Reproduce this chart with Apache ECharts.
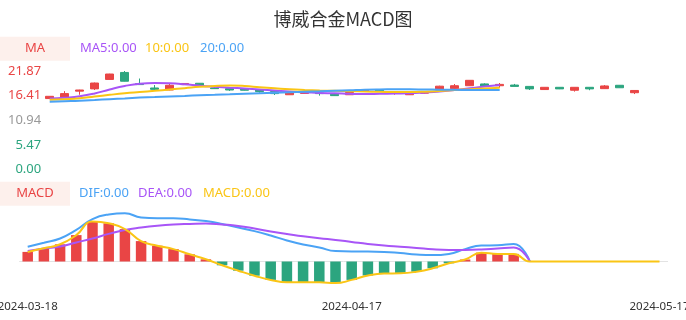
<!DOCTYPE html>
<html>
<head>
<meta charset="utf-8">
<title>博威合金MACD图</title>
<script src="https://cdn.jsdelivr.net/npm/echarts/dist/echarts.min.js"></script>
<style>
  html, body { margin: 0; padding: 0; background: #fff; }
  #main { width: 686px; height: 320px; }
</style>
</head>
<body>
<div id="main"></div>
<script>
// trading days 2024-03-18 .. 2024-05-17
const dates = [
  '2024-03-18','2024-03-19','2024-03-20','2024-03-21','2024-03-22',
  '2024-03-25','2024-03-26','2024-03-27','2024-03-28','2024-03-29',
  '2024-04-01','2024-04-02','2024-04-03','2024-04-08','2024-04-09',
  '2024-04-10','2024-04-11','2024-04-12','2024-04-15','2024-04-16',
  '2024-04-17','2024-04-18','2024-04-19','2024-04-22','2024-04-23',
  '2024-04-24','2024-04-25','2024-04-26','2024-04-29','2024-04-30',
  '2024-05-06','2024-05-07','2024-05-08','2024-05-09','2024-05-10',
  '2024-05-13','2024-05-14','2024-05-15','2024-05-16','2024-05-17'
];
// [open, close, low, high]
const candles = [
  [15.75, 16.25, 15.70, 16.30], [16.00, 16.85, 15.95, 17.40], [17.40, 17.65, 16.60, 17.70],
  [17.90, 19.20, 17.65, 19.30], [20.00, 21.20, 20.00, 21.25], [21.55, 19.60, 19.55, 21.87],
  [19.05, 18.85, 18.80, 20.20], [18.10, 17.80, 17.50, 18.75], [17.65, 18.70, 17.60, 19.00],
  [18.85, 19.10, 18.80, 19.20], [19.15, 18.70, 18.40, 19.20], [18.10, 17.95, 17.90, 18.20],
  [17.95, 17.65, 17.45, 18.00], [17.95, 17.60, 17.55, 18.00], [17.65, 17.30, 17.05, 17.70],
  [17.30, 16.85, 16.55, 17.60], [16.60, 17.15, 16.60, 17.15], [16.90, 17.05, 16.85, 17.50],
  [17.00, 16.85, 16.40, 17.10], [16.70, 16.40, 16.35, 16.75], [16.60, 17.10, 16.55, 17.10],
  [17.35, 17.70, 17.30, 17.80], [17.60, 17.30, 17.25, 17.65], [16.90, 17.00, 16.60, 17.05],
  [16.60, 17.00, 16.55, 17.00], [16.95, 17.10, 16.90, 17.15], [17.65, 18.50, 17.60, 18.60],
  [17.95, 18.60, 17.60, 18.98], [18.60, 19.80, 18.55, 19.85], [19.00, 18.55, 18.50, 19.15],
  [18.60, 18.90, 18.15, 19.20], [18.75, 18.45, 18.45, 19.00], [18.45, 17.90, 17.65, 18.50],
  [17.75, 18.25, 17.70, 18.30], [18.25, 17.90, 17.85, 18.30], [17.60, 18.25, 17.30, 18.30],
  [18.25, 17.90, 17.60, 18.30], [17.95, 18.55, 17.90, 18.75], [18.70, 18.15, 18.10, 18.75],
  [17.05, 17.55, 16.75, 17.60]
];
const ma5 = [
  15.76, 15.94, 16.25, 16.87, 17.76, 18.54, 19.05, 19.20, 19.13, 18.91,
  18.60, 18.36, 18.16, 17.98, 17.76, 17.54, 17.32, 17.16, 16.98, 16.92,
  16.81, 16.76, 16.81, 16.87, 16.92, 17.09, 17.32, 17.65, 18.02, 18.42,
  18.76
];
const ma10 = [
  15.48, 15.61, 15.81, 16.21, 16.58, 16.92, 17.20, 17.47, 17.76, 18.05,
  18.36, 18.56, 18.65, 18.54, 18.27, 18.03, 17.80, 17.65, 17.54, 17.47,
  17.38, 17.32, 17.25, 17.20, 17.20, 17.27, 17.43, 17.65, 17.83, 18.00,
  18.16
];
const ma20 = [
  15.05, 15.16, 15.27, 15.43, 15.61, 15.78, 15.96, 16.10, 16.23, 16.34,
  16.47, 16.58, 16.69, 16.81, 16.92, 17.03, 17.14, 17.25, 17.36, 17.49,
  17.60, 17.72, 17.78, 17.80, 17.80, 17.76, 17.72, 17.69, 17.67, 17.65,
  17.65
];
const dif = [
  0.37, 0.47, 0.575, 0.79, 1.06, 1.175, 1.205, 1.10, 1.08, 1.08,
  1.05, 1.01, 0.94, 0.85, 0.76, 0.65, 0.525, 0.425, 0.35, 0.26,
  0.25, 0.25, 0.24, 0.21, 0.175, 0.16, 0.19, 0.31, 0.40, 0.405,
  0.44, 0
];
const dea = [
  0.26, 0.325, 0.375, 0.475, 0.575, 0.69, 0.79, 0.85, 0.895, 0.925,
  0.94, 0.95, 0.925, 0.89, 0.825, 0.75, 0.69, 0.63, 0.58, 0.54,
  0.49, 0.44, 0.40, 0.37, 0.34, 0.305, 0.29, 0.29, 0.30, 0.325,
  0.35, 0
];
const macd = [
  0.24, 0.33, 0.43, 0.66, 1.00, 0.955, 0.81, 0.51, 0.395, 0.31,
  0.18, 0.055, -0.095, -0.23, -0.355, -0.46, -0.52, -0.52, -0.52, -0.54,
  -0.46, -0.35, -0.30, -0.295, -0.255, -0.17, -0.045, 0.05, 0.22, 0.19,
  0.19, 0, 0, 0, 0, 0, 0, 0, 0, 0
];
const priceTicks = ['0.00', '5.47', '10.94', '16.41', '21.87'];
const dateLabelIdx = [0, 20, 39];

const RED = '#e94545';
const GREEN = '#2ca57f';
const PURPLE = '#a855f7';
const YELLOW = '#fac515';
const BLUE = '#4ba3f5';
const FONT = "'Noto Sans', sans-serif";
const tickColors = [GREEN, GREEN, '#999999', RED, RED];

const chart = echarts.init(document.getElementById('main'));

const legendText = (x, y, text, fill, align) => ({
  type: 'text', x: x, y: y,
  style: { text: text, fill: fill, font: '13px ' + FONT, textAlign: align || 'left', textVerticalAlign: 'middle' }
});

const option = {
  animation: false,
  title: {
    text: '博威合金MACD图',
    left: 'center',
    top: 5,
    textStyle: { fontSize: 18, fontWeight: 'normal', color: '#333', fontFamily: 'Noto Sans CJK SC' }
  },
  graphic: [
    { type: 'rect', shape: { x: 0, y: 36.7, width: 70, height: 24 }, style: { fill: '#fdf0ec' } },
    legendText(35, 48.7, 'MA', RED, 'center'),
    legendText(80, 48.5, 'MA5:0.00', PURPLE),
    legendText(145, 48.5, '10:0.00', YELLOW),
    legendText(200, 48.5, '20:0.00', BLUE),
    { type: 'rect', shape: { x: 0, y: 181.7, width: 70, height: 24 }, style: { fill: '#fdf0ec' } },
    legendText(35, 193.7, 'MACD', RED, 'center'),
    legendText(79, 193.5, 'DIF:0.00', BLUE),
    legendText(138, 193.5, 'DEA:0.00', PURPLE),
    legendText(203, 193.5, 'MACD:0.00', YELLOW)
  ],
  grid: [
    { left: 42.2, right: 43.8, top: 71, height: 98.5, outerBoundsMode: 'none' },
    { left: 19.6, right: 18.4, top: 211.5, height: 80, outerBoundsMode: 'none' }
  ],
  xAxis: [
    { type: 'category', gridIndex: 0, data: dates, boundaryGap: true, show: false },
    {
      type: 'category', gridIndex: 1, data: dates, boundaryGap: true,
      axisLine: { show: false, onZero: false },
      axisTick: { show: false },
      axisLabel: {
        margin: 9,
        color: '#333',
        fontSize: 11.5,
        fontFamily: FONT,
        interval: (i) => dateLabelIdx.indexOf(i) >= 0
      }
    },
    {
      type: 'category', gridIndex: 1, data: dates, boundaryGap: true, position: 'top',
      axisLine: { show: true, onZero: true, lineStyle: { color: '#e3e3e3', width: 1 } },
      axisTick: { show: false },
      axisLabel: { show: false }
    }
  ],
  yAxis: [
    {
      type: 'value', gridIndex: 0, min: 0, max: 21.87, interval: 21.87 / 4,
      splitLine: { show: false }, axisLine: { show: false }, axisTick: { show: false },
      axisLabel: {
        margin: 1,
        fontSize: 13,
        fontFamily: FONT,
        formatter: (v, i) => priceTicks[i],
        color: (v, i) => tickColors[i]
      }
    },
    { type: 'value', gridIndex: 1, min: -0.75, max: 1.25, show: false, splitLine: { show: false } }
  ],
  series: [
    {
      type: 'candlestick', xAxisIndex: 0, yAxisIndex: 0, data: candles, barWidth: 8,
      itemStyle: { color: RED, color0: GREEN, borderColor: RED, borderColor0: GREEN, borderWidth: 1 }
    },
    { type: 'line', xAxisIndex: 0, yAxisIndex: 0, data: ma5, smooth: true, showSymbol: false, lineStyle: { color: PURPLE, width: 2 } },
    { type: 'line', xAxisIndex: 0, yAxisIndex: 0, data: ma10, smooth: true, showSymbol: false, lineStyle: { color: YELLOW, width: 2 } },
    { type: 'line', xAxisIndex: 0, yAxisIndex: 0, data: ma20, smooth: true, showSymbol: false, lineStyle: { color: BLUE, width: 2 } },
    {
      type: 'bar', xAxisIndex: 1, yAxisIndex: 1, data: macd, barWidth: 10.5,
      itemStyle: { color: (p) => (p.value >= 0 ? RED : GREEN) }
    },
    { type: 'line', xAxisIndex: 1, yAxisIndex: 1, data: dif, smooth: true, showSymbol: false, lineStyle: { color: BLUE, width: 2 } },
    { type: 'line', xAxisIndex: 1, yAxisIndex: 1, data: dea, smooth: true, showSymbol: false, lineStyle: { color: PURPLE, width: 2 } },
    { type: 'line', xAxisIndex: 1, yAxisIndex: 1, data: macd, smooth: true, showSymbol: false, lineStyle: { color: YELLOW, width: 2 } }
  ]
};

chart.setOption(option);
</script>
</body>
</html>
